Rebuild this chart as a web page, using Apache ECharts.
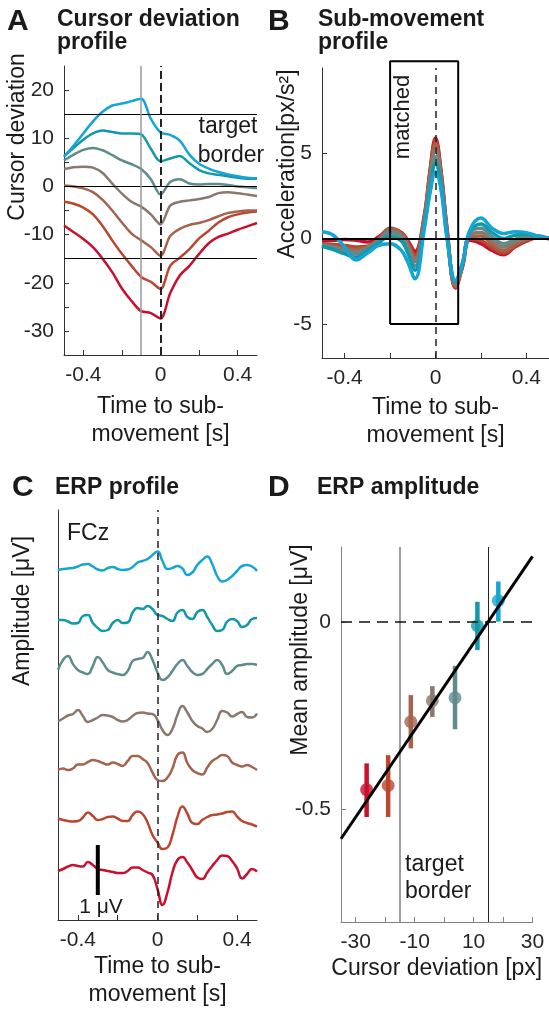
<!DOCTYPE html>
<html>
<head>
<meta charset="utf-8">
<script src="https://cdn.jsdelivr.net/npm/echarts@6.0.0/dist/echarts.min.js"></script>
<style>
html, body { margin: 0; padding: 0; background: #fff; }
#main { width: 549px; height: 1013px; }
</style>
</head>
<body>
<div id="main"></div>
<script>
var chartDom = document.getElementById('main');
var myChart = echarts.init(chartDom);
var FONT = 'Liberation Sans';

// red (most negative deviation) -> cyan (most positive)
var levelColors = ['#c8102e', '#b9472f', '#a5634e', '#8b786c', '#5e8c8b', '#1199aa', '#14a5d5'];

// A: cursor deviation profile
var timeA = [-0.5, -0.45, -0.4, -0.35, -0.3, -0.25, -0.2, -0.15, -0.1, -0.05, 0, 0.05, 0.1, 0.15, 0.2, 0.25, 0.3, 0.35, 0.4, 0.45, 0.5];
var devRed = [-8.1, -9.5, -10.9, -12.6, -15, -17.8, -21.2, -23.8, -25.9, -26.3, -27.4, -22.2, -18.5, -16.5, -14, -11.8, -10.5, -9.8, -9, -8.3, -7.6];
var devRust = [-3.2, -3.6, -4.4, -5.8, -8.2, -11.2, -14, -16.5, -18.8, -19.8, -21.3, -16.5, -14.8, -13, -10.8, -9.2, -7.5, -6.4, -5.8, -5.4, -5.2];
var devBrown = [0.2, 0, -0.4, -1.2, -2.8, -5, -7.5, -9.8, -11.2, -12.6, -14.4, -10.3, -8.8, -8, -7.6, -7, -6.2, -5.5, -5.2, -5, -5];
var devTaupe = [3.6, 4, 4.1, 3.9, 2.8, 0.6, -1.5, -3.2, -4.2, -5.8, -7.9, -4, -3.2, -2.9, -2.6, -2.2, -1.4, -1.2, -1.4, -1.7, -2];
var devGreyTeal = [5.4, 6.6, 7.6, 8, 7.5, 6.5, 5.4, 4.6, 3.6, 1.5, -1.7, 0.9, 1.5, 0.6, 0.4, 0.5, 0.5, 0.3, 0, -0.2, -0.4];
var devTeal = [6.2, 8, 9.7, 11, 11.6, 11.3, 11, 11, 10.8, 7.8, 5.2, 5.8, 6.3, 4.8, 3.4, 2.7, 2.4, 2.1, 1.8, 1.6, 1.6];
var devCyan = [6.2, 8.5, 11, 13.5, 15.5, 16.8, 17.2, 17.7, 18.2, 14, 11.2, 10.7, 9.5, 6.6, 4.7, 3.7, 3, 2.5, 2.1, 1.8, 1.7];
var targetBorderA = [15, 0, -15];
var gazeLineT = -0.1;

// B: sub-movement acceleration profile
var timeB = [-0.5, -0.45, -0.4, -0.35, -0.3, -0.25, -0.2, -0.15, -0.125, -0.09, -0.05, -0.025, 0, 0.025, 0.05, 0.088, 0.12, 0.15, 0.2, 0.25, 0.3, 0.35, 0.4, 0.45, 0.5];
var accRed = [-0.15, -0.1, -0.05, -0.1, -0.2, 0.1, 0.55, 0.35, -0.05, -0.75, 1.3, 3.9, 5.9, 3.9, 0.7, -2.9, -1.6, -0.1, -0.3, -0.7, -0.95, -0.5, -0.15, 0.05, 0];
var accRust = [-0.3, -0.35, -0.4, -0.5, -0.45, 0, 0.6, 0.35, -0.15, -0.95, 1.2, 3.8, 5.75, 3.8, 0.6, -2.85, -1.55, 0, -0.1, -0.55, -0.85, -0.45, -0.1, 0.05, 0];
var accBrown = [-0.35, -0.45, -0.55, -0.65, -0.5, -0.05, 0.55, 0.3, -0.25, -1.15, 1.1, 3.6, 5.5, 3.7, 0.5, -2.8, -1.5, 0.1, 0.15, -0.35, -0.7, -0.35, -0.05, 0.1, 0];
var accTaupe = [-0.35, -0.5, -0.65, -0.75, -0.55, -0.1, 0.45, 0.2, -0.35, -1.35, 1, 3.4, 5.2, 3.5, 0.4, -2.7, -1.5, 0.2, 0.35, -0.15, -0.5, -0.2, 0.05, 0.1, 0];
var accGreyTeal = [-0.4, -0.55, -0.75, -0.9, -0.6, -0.15, 0.35, 0.05, -0.5, -1.6, 0.85, 3.1, 4.8, 3.3, 0.3, -2.6, -1.45, 0.3, 0.6, 0.1, -0.3, -0.05, 0.15, 0.15, 0];
var accTeal = [-0.45, -0.65, -0.9, -1.1, -0.7, -0.25, 0.15, -0.15, -0.75, -1.85, 0.7, 2.8, 4.4, 3.1, 0.2, -2.5, -1.4, 0.35, 0.85, 0.35, 0, 0.2, 0.25, 0.15, 0];
var accCyan = [0.4, 0.2, -0.5, -1.25, -0.85, -0.4, -0.3, -0.7, -1.3, -2.35, 0.5, 2.6, 3.9, 2.8, 0.1, -2.45, -1.35, 0.45, 1.2, 0.6, 0.3, 0.4, 0.35, 0.15, 0];
var matchWindow = [-0.2, 0.1];
var matchRange = [-5, 10.4];

// C: ERP traces at FCz (stacked 1 uV apart)
var timeC = [-0.5, -0.475, -0.45, -0.425, -0.4, -0.375, -0.35, -0.325, -0.3, -0.275, -0.25, -0.225, -0.2, -0.175, -0.15, -0.125, -0.1, -0.075, -0.05, -0.025, 0,
  0.025, 0.05, 0.075, 0.1, 0.125, 0.15, 0.175, 0.2, 0.225, 0.25, 0.275, 0.3, 0.325, 0.35, 0.375, 0.4, 0.425, 0.45, 0.475, 0.5];
var erpRed = [-0.02, 0.02, 0.07, 0.1, 0.08, 0.07, 0.16, 0.1, 0.02, 0, -0.02, -0.04, -0.06, -0.06, -0.02, 0.05, 0.05, 0, -0.05, -0.1, -0.38,
  -0.7, -0.45, -0.05, 0.2, 0.26, 0.15, 0, -0.15, -0.18, -0.05, 0.08, 0.2, 0.29, 0.28, 0.18, 0.03, -0.17, -0.08, 0.02, -0.03];
var erpRust = [0.03, 0, -0.02, -0.03, -0.02, 0.05, 0.15, 0.08, 0, 0.02, 0.06, 0.07, 0.03, -0.02, -0.02, 0.1, 0.17, 0.12, -0.05, -0.3, -0.45,
  -0.58, -0.55, -0.3, 0.06, 0.27, 0.13, -0.06, -0.08, 0, 0.06, 0.1, 0.11, 0.13, 0.16, 0.17, 0.07, -0.02, -0.06, -0.09, -0.13];
var erpBrown = [0, 0.03, 0, 0.03, 0.11, 0.11, 0.16, 0.2, 0.18, 0.14, 0.11, 0.15, 0.12, 0.08, 0.18, 0.28, 0.28, 0.22, 0.14, -0.05, -0.2,
  -0.22, -0.15, 0.03, 0.3, 0.35, 0.14, 0, -0.06, -0.09, 0.05, 0.18, 0.24, 0.3, 0.28, 0.15, 0.1, 0.07, 0.1, 0.06, 0];
var erpTaupe = [-0.03, 0.03, 0.09, 0.12, 0.2, 0.08, -0.04, 0, 0.05, 0.1, 0.09, 0.06, 0, -0.03, 0, 0.08, 0.14, 0.15, 0.13, 0.12, 0,
  -0.2, -0.3, -0.18, 0.1, 0.28, 0.15, -0.02, -0.12, -0.17, -0.24, -0.18, 0, 0.18, 0.15, 0.07, 0.12, 0.16, 0.06, 0.05, 0.13];
var erpGreyTeal = [0, 0.2, 0.28, 0.12, 0, -0.05, -0.08, 0.08, 0.26, 0.15, 0, -0.05, -0.08, -0.1, -0.02, 0.18, 0.22, 0.24, 0.36, 0.2, -0.05,
  -0.2, -0.15, -0.02, 0.12, 0.2, 0.08, -0.04, -0.1, -0.08, 0.02, 0.12, 0.2, 0.1, -0.08, -0.02, 0.08, 0.1, 0.12, 0.12, 0.1];
var erpTeal = [0, 0, -0.03, -0.07, -0.06, 0.08, 0.1, -0.06, -0.16, -0.22, -0.2, -0.06, 0, -0.06, -0.05, 0.15, 0.24, 0.22, 0.28, 0.22, 0.1,
  0.08, 0.02, -0.02, 0.15, 0.2, 0.06, 0.02, 0.16, 0.2, 0.06, -0.1, -0.22, -0.2, -0.03, 0.02, -0.02, -0.14, -0.1, 0.02, 0.04];
var erpCyan = [0, 0.02, 0.03, 0.04, 0.07, 0.11, 0.12, 0.07, 0.01, -0.01, 0.04, 0.06, 0.02, 0, 0.01, 0.06, 0.15, 0.18, 0.22, 0.3, 0.37,
  0.18, 0.02, 0.04, 0.08, 0.03, -0.1, -0.05, 0.1, 0.2, 0.27, 0.12, -0.12, -0.23, -0.2, -0.12, -0.02, 0.08, 0.1, 0.07, -0.02];
var erpOffsets = [1, 2, 3, 4, 5, 6, 7];
var scaleBarT = -0.3;
var scaleBarUv = [0.5, 1.5];

// D: ERP amplitude vs cursor deviation
var ampX = [-26.3, -19, -11.3, -4, 3.7, 11.3, 18.4];
var ampMean = [-0.447, -0.436, -0.266, -0.21, -0.202, -0.01, 0.057];
var ampLow = [-0.52, -0.52, -0.337, -0.253, -0.286, -0.075, 0.001];
var ampHigh = [-0.377, -0.355, -0.195, -0.171, -0.117, 0.054, 0.108];
var fitX = [-35, 30];
var fitY = [-0.578, 0.175];
var targetBorderD = [-15, 15];

var devSeries = [devRed, devRust, devBrown, devTaupe, devGreyTeal, devTeal, devCyan];
var accSeries = [accRed, accRust, accBrown, accTaupe, accGreyTeal, accTeal, accCyan];
var erpSeries = [erpRed, erpRust, erpBrown, erpTaupe, erpGreyTeal, erpTeal, erpCyan];

function pairs(xs, ys, off) {
    return xs.map(function (x, i) { return [x, ys[i] + (off || 0)]; });
}

function axis(grid, min, max, ticks, labels, color, extra) {
    var a = {
        type: 'value', gridIndex: grid, min: min, max: max,
        axisLine: { show: true, onZero: false, lineStyle: { color: color, width: 1 } },
        axisTick: { show: ticks.length > 0, inside: true, length: 5, customValues: ticks, lineStyle: { color: color, width: 1 } },
        axisLabel: { show: labels.length > 0, customValues: labels, fontSize: 21, fontFamily: FONT, color: '#262626', margin: 10 },
        splitLine: { show: false }
    };
    return Object.assign(a, extra || {});
}

var timeName = {
    name: 'Time to sub-\nmovement [s]', nameLocation: 'middle', nameGap: 38,
    nameTextStyle: { fontSize: 23, fontFamily: FONT, color: '#1a1a1a', lineHeight: 28, verticalAlign: 'top' }
};

function gtext(x, y, text, size, opts) {
    opts = opts || {};
    return {
        type: 'text', x: x, y: y, rotation: opts.rot || 0, silent: true, z: 100,
        style: {
            text: text, fontSize: size, fontFamily: FONT, fontWeight: opts.bold ? 'bold' : 'normal',
            fill: '#1a1a1a', align: opts.align || 'center', verticalAlign: 'middle'
        }
    };
}

var series = [];

// A
series.push({
    type: 'line', xAxisIndex: 0, yAxisIndex: 0, data: [], symbol: 'none', z: 2, silent: true,
    markLine: {
        symbol: ['none', 'none'], silent: true, label: { show: false },
        lineStyle: { color: '#000', width: 1, type: 'solid' },
        data: targetBorderA.map(function (v) { return { yAxis: v }; }).concat([
            { xAxis: gazeLineT, lineStyle: { color: '#999', width: 1.5, type: 'solid' } },
            { xAxis: 0, lineStyle: { color: '#222', width: 2, type: [8, 4] } }
        ])
    }
});
devSeries.forEach(function (d, i) {
    series.push({
        type: 'line', xAxisIndex: 0, yAxisIndex: 0, data: pairs(timeA, d), smooth: 0.3,
        symbol: 'none', lineStyle: { color: levelColors[i], width: 2.5 }, z: 3
    });
});

// B
series.push({
    type: 'line', xAxisIndex: 1, yAxisIndex: 1, data: [], symbol: 'none', z: 2, silent: true,
    markLine: {
        symbol: ['none', 'none'], silent: true, label: { show: false },
        data: [
            { yAxis: 0, lineStyle: { color: '#000', width: 2, type: 'solid' } },
            { xAxis: 0, lineStyle: { color: '#222', width: 1.5, type: [7, 5] } }
        ]
    }
});
accSeries.forEach(function (d, i) {
    series.push({
        type: 'line', xAxisIndex: 1, yAxisIndex: 1, data: pairs(timeB, d), smooth: 0.4,
        symbol: 'none', lineStyle: { color: levelColors[i], width: 3.5 }, z: 3
    });
});
series.push({
    type: 'line', xAxisIndex: 1, yAxisIndex: 1, clip: false, symbol: 'none', z: 6,
    lineStyle: { color: '#000', width: 2 },
    data: [[matchWindow[0], matchRange[0]], [matchWindow[1], matchRange[0]], [matchWindow[1], matchRange[1]],
        [matchWindow[0], matchRange[1]], [matchWindow[0], matchRange[0]]]
});

// C
series.push({
    type: 'line', xAxisIndex: 2, yAxisIndex: 2, data: [], symbol: 'none', z: 2, silent: true,
    markLine: {
        symbol: ['none', 'none'], silent: true, label: { show: false },
        data: [{ xAxis: 0, lineStyle: { color: '#222', width: 1.5, type: [7, 5] } }]
    }
});
erpSeries.forEach(function (d, i) {
    series.push({
        type: 'line', xAxisIndex: 2, yAxisIndex: 2, data: pairs(timeC, d, erpOffsets[i]), smooth: 0.5,
        symbol: 'none', lineStyle: { color: levelColors[i], width: 2.5 }, z: 3
    });
});
series.push({
    type: 'line', xAxisIndex: 2, yAxisIndex: 2, symbol: 'none', z: 5,
    lineStyle: { color: '#000', width: 4 },
    data: [[scaleBarT, scaleBarUv[0]], [scaleBarT, scaleBarUv[1]]]
});

// D
series.push({
    type: 'line', xAxisIndex: 3, yAxisIndex: 3, data: [], symbol: 'none', z: 2, silent: true,
    markLine: {
        symbol: ['none', 'none'], silent: true, label: { show: false },
        data: [
            { xAxis: targetBorderD[0], lineStyle: { color: '#7f7f7f', width: 1.5, type: 'solid' } },
            { xAxis: targetBorderD[1], lineStyle: { color: '#222', width: 1, type: 'solid' } },
            { yAxis: 0, lineStyle: { color: '#111', width: 1.5, type: [11, 7] } }
        ]
    }
});
series.push({
    type: 'custom', xAxisIndex: 3, yAxisIndex: 3, z: 3,
    data: ampX.map(function (x, i) { return [x, ampLow[i], ampHigh[i]]; }),
    renderItem: function (params, api) {
        var p1 = api.coord([api.value(0), api.value(1)]);
        var p2 = api.coord([api.value(0), api.value(2)]);
        return {
            type: 'line', shape: { x1: p1[0], y1: p1[1], x2: p2[0], y2: p2[1] },
            style: { stroke: levelColors[params.dataIndex], lineWidth: 4.5 }
        };
    }
});
series.push({
    type: 'scatter', xAxisIndex: 3, yAxisIndex: 3, symbolSize: 13, z: 4,
    data: ampX.map(function (x, i) { return { value: [x, ampMean[i]], itemStyle: { color: levelColors[i] } }; })
});
series.push({
    type: 'line', xAxisIndex: 3, yAxisIndex: 3, symbol: 'none', z: 5,
    lineStyle: { color: '#000', width: 3 }, data: pairs(fitX, fitY)
});

var option = {
    animation: false,
    backgroundColor: '#fff',
    grid: [
        { left: 64, top: 66, width: 193, height: 289 },
        { left: 322, top: 68, width: 227, height: 290 },
        { left: 58, top: 510, width: 199, height: 410 },
        { left: 341, top: 547, width: 191.5, height: 375 }
    ],
    xAxis: [
        axis(0, -0.5, 0.5, [-0.4, -0.2, 0, 0.2, 0.4], [-0.4, 0, 0.4], '#333', timeName),
        axis(1, -0.5, 0.5, [-0.4, -0.2, 0, 0.2, 0.4], [-0.4, 0, 0.4], '#333', Object.assign({}, timeName, { nameGap: 36 })),
        axis(2, -0.5, 0.5, [-0.4, -0.2, 0, 0.2, 0.4], [-0.4, 0, 0.4], '#333', Object.assign({}, timeName, { nameGap: 33 })),
        axis(3, -35, 30, [-30, -20, -10, 0, 10, 20, 30], [-30, -10, 10, 30], '#808080', {
            name: 'Cursor deviation [px]', nameLocation: 'middle', nameGap: 35,
            nameTextStyle: { fontSize: 23, fontFamily: FONT, color: '#1a1a1a', verticalAlign: 'top' }
        })
    ],
    yAxis: [
        axis(0, -35, 25, [-30, -25, -20, -15, -10, -5, 0, 5, 10, 15, 20], [-30, -20, -10, 0, 10, 20], '#333'),
        axis(1, -7, 10, [-5, 0, 5], [-5, 0, 5], '#333'),
        axis(2, 0, 8.2, [], [], '#333'),
        axis(3, -0.8, 0.2, [-0.5, 0], [-0.5, 0], '#808080')
    ],
    graphic: [
        gtext(7, 22, 'A', 30, { bold: true, align: 'left' }),
        gtext(57, 20, 'Cursor deviation', 23, { bold: true, align: 'left' }),
        gtext(57, 43, 'profile', 23, { bold: true, align: 'left' }),
        gtext(268, 22, 'B', 30, { bold: true, align: 'left' }),
        gtext(318, 20, 'Sub-movement', 23, { bold: true, align: 'left' }),
        gtext(318, 43, 'profile', 23, { bold: true, align: 'left' }),
        gtext(12, 488, 'C', 30, { bold: true, align: 'left' }),
        gtext(55, 488, 'ERP profile', 23, { bold: true, align: 'left' }),
        gtext(268, 488, 'D', 30, { bold: true, align: 'left' }),
        gtext(317, 488, 'ERP amplitude', 23, { bold: true, align: 'left' }),
        gtext(18, 137, 'Cursor deviation', 23, { rot: Math.PI / 2 }),
        gtext(288, 164, 'Acceleration[px/s²]', 23, { rot: Math.PI / 2 }),
        gtext(23, 611, 'Amplitude [μV]', 23, { rot: Math.PI / 2 }),
        gtext(301, 650, 'Mean amplitude [μV]', 23, { rot: Math.PI / 2 }),
        gtext(228, 127, 'target', 23),
        gtext(231, 156, 'border', 23),
        gtext(403, 117, 'matched', 22, { rot: Math.PI / 2 }),
        gtext(67, 534, 'FCz', 23, { align: 'left' }),
        gtext(101, 907, '1 μV', 21),
        gtext(405, 865, 'target', 23, { align: 'left' }),
        gtext(405, 892, 'border', 23, { align: 'left' })
    ],
    series: series
};

myChart.setOption(option);
</script>
</body>
</html>
